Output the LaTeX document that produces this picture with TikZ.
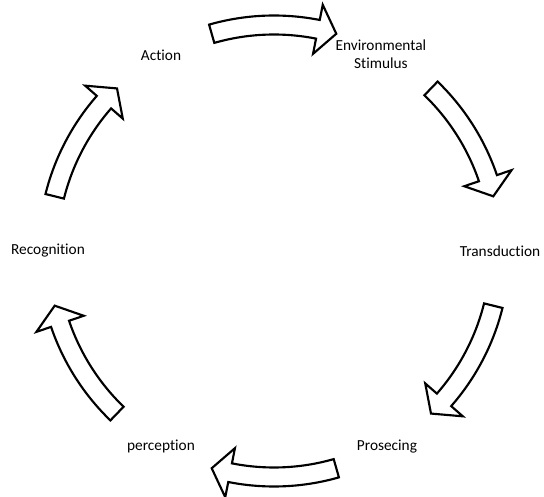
\documentclass[tikz,border=0pt]{standalone}
\usepackage{fontspec}
\setmainfont{Carlito}[Ligatures={NoCommon}]

% curved block arrow along the cycle, from angle #1 to angle #2 (clockwise)
\newcommand{\stagearrow}[2]{%
  \pgfmathsetmacro{\headbase}{#2+4.8}
  \draw[cyclearrow] (#1:235.5) arc[start angle=#1, end angle=\headbase, radius=235.5]
    -- (\headbase:251) -- (#2:226) -- (\headbase:201) -- (\headbase:216.5)
    arc[start angle=\headbase, end angle=#1, radius=216.5] -- cycle;
}

\begin{document}
\begin{tikzpicture}[x=0.75pt, y=0.75pt,
    font=\fontsize{11.5}{14}\selectfont,
    stage/.style={align=center, inner sep=1pt},
    cyclearrow/.style={draw=black, fill=white, line width=1.6pt, line join=miter}]
  \useasboundingbox (0,0) rectangle (544,497);
  \coordinate (c) at (274,246);

  \begin{scope}[shift={(c)}]
    \node[stage] (action) at (120:226) {Action};
    \node[stage] (environment) at (61.5:224) {Environmental\\Stimulus};
    \node[stage] (transduction) at (0:226) {Transduction};
    \node[stage] (prosecing) at (-60:226) {Prosecing};
    \node[stage] (perception) at (-120:226) {perception};
    \node[stage] (recognition) at (180:226) {Recognition};

    \foreach \a in {90,30,-30,-90,-150,150}
      \stagearrow{\a+16}{\a-16};
  \end{scope}
\end{tikzpicture}
\end{document}
